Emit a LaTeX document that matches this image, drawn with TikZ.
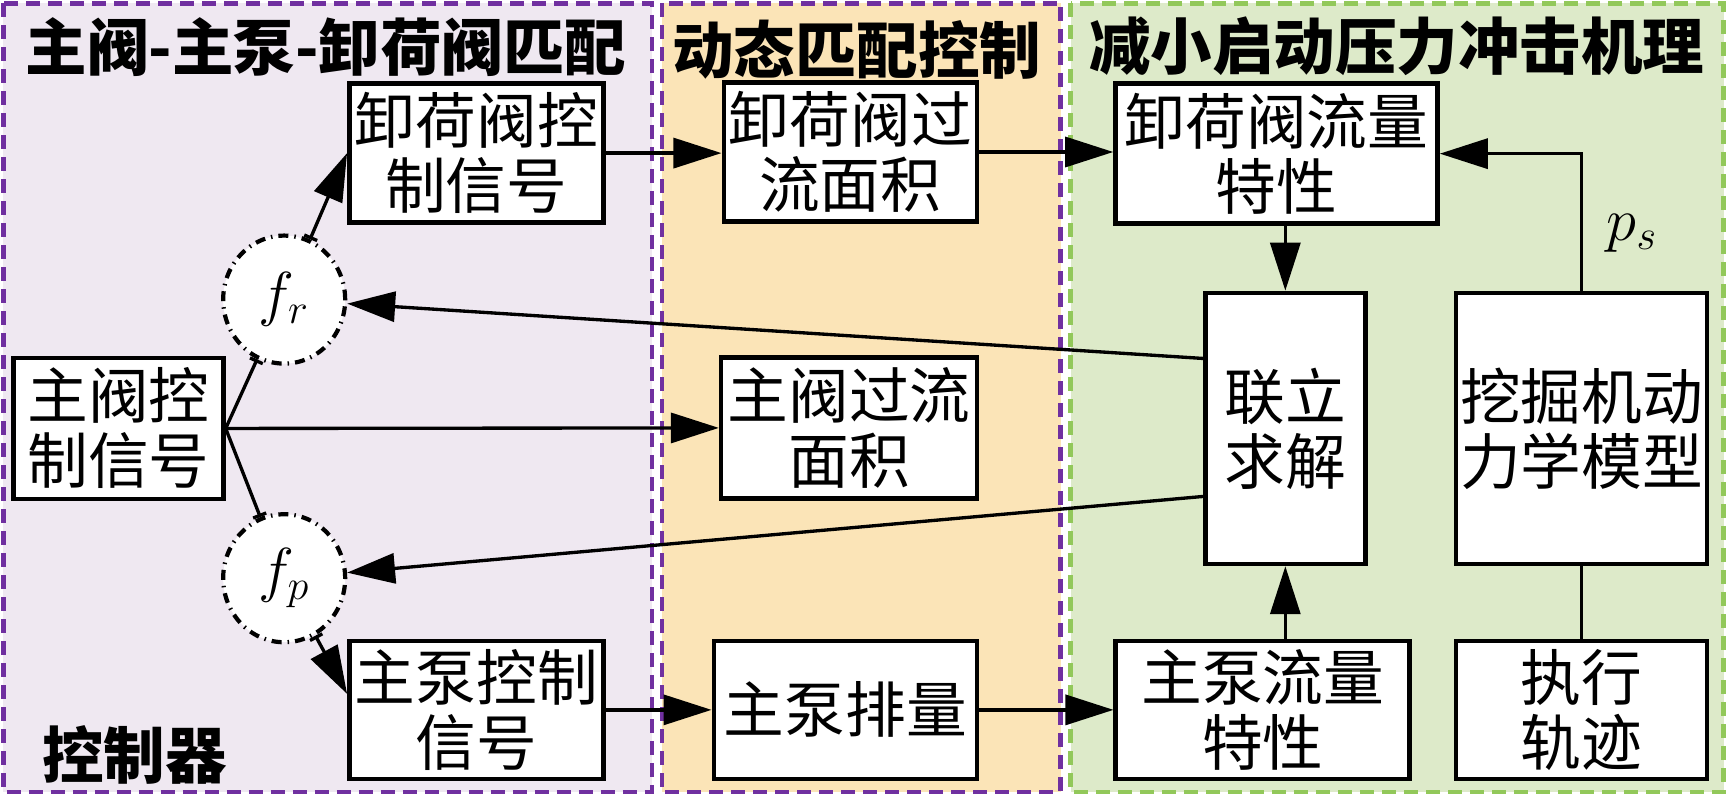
\documentclass[tikz,border=0pt]{standalone}
\usepackage{amsmath}
\usepackage{fontspec}
\newfontfamily\cjk{Noto Sans CJK SC}
\usetikzlibrary{arrows.meta,shapes.geometric}

\definecolor{zoneA}{RGB}{239,232,241}
\definecolor{zoneB}{RGB}{251,228,183}
\definecolor{zoneC}{RGB}{221,234,201}
\definecolor{zonepurple}{RGB}{112,48,160}
\definecolor{zonegreen}{RGB}{146,200,90}

\tikzset{
  blk/.style={draw,line width=1.3pt,fill=white,align=center,inner sep=0pt,
    font=\cjk\fontsize{17.28}{18.5}\selectfont},
  fnode/.style={ellipse,draw,line width=1.2pt,fill=white,inner sep=0pt,
    dash pattern=on 1mm off 0.6mm on 0.15mm off 0.6mm,
    minimum width=12.2mm,minimum height=12.8mm,font=\LARGE},
  ttl/.style={inner sep=0pt,font=\cjk\bfseries\fontsize{17.5}{20}\selectfont},
  sig/.style={line width=0.95pt,-{Triangle[length=4.8mm,width=3mm]}},
  lnk/.style={line width=0.95pt},
  zone/.style={line width=1.3pt,dash pattern=on 1.4mm off 0.8mm}
}

\begin{document}
\begin{tikzpicture}[x=0.11014mm,y=-0.11014mm]
\fill[white] (0,0) rectangle (1568,722);
\useasboundingbox (0,0) rectangle (1568,722);

% three zones
\draw[zone,draw=zonepurple,fill=zoneA] (3,3) rectangle (592,719);
\draw[zone,draw=zonepurple,fill=zoneB] (601,3) rectangle (963,719);
\draw[zone,draw=zonegreen,fill=zoneC] (972,3) rectangle (1565,719);

\node[ttl] (ttlA) at (296,43) {主阀-主泵-卸荷阀匹配};
\node[ttl] (ttlB) at (778,45) {动态匹配控制};
\node[ttl] (ttlC) at (1268,42) {减小启动压力冲击机理};
\node[ttl] (ttlD) at (122,685) {控制器};

% blocks
\node[blk,minimum width=21mm,minimum height=14.1mm] (mvc) at (107.5,389) {主阀控\\制信号};
\node[blk,minimum width=25.4mm,minimum height=13.9mm] (ucs) at (432.5,139) {卸荷阀控\\制信号};
\node[blk,minimum width=25.4mm,minimum height=13.8mm] (pcs) at (432.5,644.5) {主泵控制\\信号};
\node[blk,minimum width=25.3mm,minimum height=13.9mm] (uarea) at (772,138) {卸荷阀过\\流面积};
\node[blk,minimum width=25.6mm,minimum height=14.1mm] (marea) at (771,388.5) {主阀过流\\面积};
\node[blk,minimum width=26.3mm,minimum height=13.8mm] (pdisp) at (767.5,644.5) {主泵排量};
\node[blk,minimum width=32.2mm,minimum height=14mm] (uflow) at (1159,139.5) {卸荷阀流量\\特性};
\node[blk,minimum width=29.4mm,minimum height=13.8mm] (pflow) at (1146.5,644.5) {主泵流量\\特性};
\node[blk,minimum width=25.1mm,minimum height=13.8mm] (traj) at (1436,644.5) {执行\\轨迹};
\node[blk,minimum width=16mm,minimum height=27.1mm] (solve) at (1167,389) {联立\\求解};
\node[blk,minimum width=25.1mm,minimum height=27.1mm] (dyn) at (1436,389) {挖掘机动\\力学模型};

\node[fnode] (fr) at (258,272) {$f_r$};
\node[fnode] (fp) at (258,525) {$f_p$};
\node[font=\LARGE] (ps) at (1482,212) {$p_s$};

% connectors
\draw[lnk,-{Bar[width=1.4mm]}] (mvc.east) -- (fr);
\draw[lnk,-{Bar[width=1.4mm]}] (mvc.east) -- (fp);
\draw[sig] (mvc.east) -- (marea.west);
\draw[sig,{Bar[width=1.4mm]}-{Triangle[length=4.8mm,width=3mm]}] (fr) -- (ucs.west);
\draw[sig,{Bar[width=1.4mm]}-{Triangle[length=4.8mm,width=3mm]}] (fp) -- ([yshift=1.6mm]pcs.west);
\draw[sig] (ucs.east) -- (ucs.east -| uarea.west);
\draw[sig] (uarea.east) -- (uarea.east -| uflow.west);
\draw[sig] (pcs.east) -- (pdisp.west);
\draw[sig] (pdisp.east) -- (pflow.west);
\draw[sig] (solve.north |- uflow.south) -- (solve.north);
\draw[sig] (solve.south |- pflow.north) -- (solve.south);
\draw[sig] ([yshift=7mm]solve.west) -- (fr);
\draw[sig] ([yshift=-6.8mm]solve.west) -- (fp);
\draw[sig] (dyn.north) |- (uflow.east);
\draw[lnk] (traj.north) -- (dyn.south);
\end{tikzpicture}
\end{document}
